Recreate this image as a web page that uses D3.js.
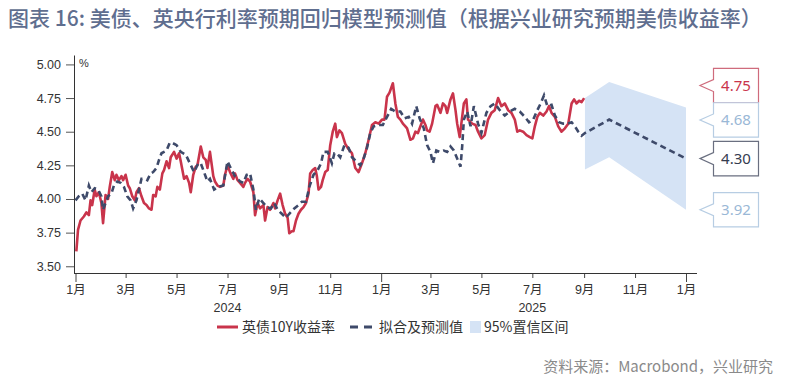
<!DOCTYPE html>
<html><head><meta charset="utf-8">
<script src="https://cdn.jsdelivr.net/npm/d3@7"></script>
<style>
body{margin:0;background:#fff;}
svg{display:block;}
</style></head>
<body><svg id="c" width="800" height="380"></svg>
<script>
// ---------------- data ----------------
const titleText = "图表 16: 美债、英央行利率预期回归模型预测值（根据兴业研究预期美债收益率）";
const sourceText = "资料来源：Macrobond，兴业研究";
const seriesNames = ["英债10Y收益率", "拟合及预测值", "95%置信区间"];
const yTicks = [3.50, 3.75, 4.00, 4.25, 4.50, 4.75, 5.00];
const yearLabels = [["2024-07-01", "2024"], ["2025-07-01", "2025"]];

// UK 10Y gilt yield (%)
const gilt10y = [
["2024-01-02",3.61],["2024-01-04",3.77],["2024-01-07",3.84],["2024-01-11",3.87],["2024-01-14",3.90],["2024-01-17",3.88],
["2024-01-19",3.99],["2024-01-21",3.955],["2024-01-24",4.07],["2024-01-26",4.02],["2024-01-29",4.05],["2024-02-01",3.97],
["2024-02-03",3.82],["2024-02-06",4.03],["2024-02-09",4.00],["2024-02-11",4.09],["2024-02-14",4.20],["2024-02-17",4.14],
["2024-02-19",4.18],["2024-02-22",4.14],["2024-02-25",4.17],["2024-02-27",4.14],["2024-03-01",4.18],["2024-03-04",4.10],
["2024-03-06",4.08],["2024-03-09",4.02],["2024-03-12",3.99],["2024-03-14",4.05],["2024-03-17",4.08],["2024-03-20",4.02],
["2024-03-23",3.97],["2024-03-26",3.955],["2024-03-29",3.93],["2024-04-01",3.92],["2024-04-03",4.03],["2024-04-06",4.02],
["2024-04-08",4.09],["2024-04-11",4.07],["2024-04-14",4.19],["2024-04-16",4.215],["2024-04-19",4.28],["2024-04-22",4.23],
["2024-04-24",4.31],["2024-04-28",4.35],["2024-05-01",4.30],["2024-05-04",4.34],["2024-05-06",4.28],["2024-05-10",4.15],
["2024-05-13",4.17],["2024-05-16",4.12],["2024-05-18",4.05],["2024-05-21",4.18],["2024-05-24",4.24],["2024-05-26",4.25],
["2024-05-30",4.39],["2024-06-02",4.31],["2024-06-05",4.29],["2024-06-07",4.23],["2024-06-10",4.35],["2024-06-14",4.17],
["2024-06-16",4.13],["2024-06-19",4.10],["2024-06-22",4.09],["2024-06-26",4.10],["2024-06-28",4.18],["2024-07-01",4.25],
["2024-07-04",4.20],["2024-07-08",4.15],["2024-07-10",4.19],["2024-07-13",4.14],["2024-07-16",4.12],["2024-07-20",4.09],
["2024-07-22",4.12],["2024-07-25",4.15],["2024-07-28",4.13],["2024-08-01",4.05],["2024-08-03",3.88],["2024-08-06",3.97],
["2024-08-09",3.93],["2024-08-13",3.955],["2024-08-15",3.84],["2024-08-18",3.94],["2024-08-21",3.92],["2024-08-25",3.97],
["2024-08-27",3.93],["2024-08-30",3.99],["2024-09-02",4.04],["2024-09-05",3.955],["2024-09-08",3.89],["2024-09-11",3.86],
["2024-09-13",3.745],["2024-09-16",3.76],["2024-09-18",3.76],["2024-09-21",3.84],["2024-09-24",3.89],["2024-09-27",3.92],
["2024-09-30",3.94],["2024-10-03",3.97],["2024-10-06",4.04],["2024-10-08",4.19],["2024-10-11",4.215],["2024-10-14",4.23],
["2024-10-16",4.17],["2024-10-18",4.07],["2024-10-21",4.09],["2024-10-23",4.14],["2024-10-26",4.20],["2024-10-29",4.215],
["2024-11-01",4.40],["2024-11-04",4.50],["2024-11-07",4.56],["2024-11-09",4.46],["2024-11-12",4.51],["2024-11-15",4.49],
["2024-11-19",4.41],["2024-11-23",4.37],["2024-11-27",4.34],["2024-12-01",4.23],["2024-12-05",4.20],["2024-12-09",4.265],
["2024-12-13",4.34],["2024-12-17",4.44],["2024-12-21",4.55],["2024-12-25",4.57],["2024-12-29",4.56],["2025-01-02",4.59],
["2025-01-05",4.59],["2025-01-08",4.76],["2025-01-11",4.79],["2025-01-15",4.86],["2025-01-18",4.71],["2025-01-21",4.61],
["2025-01-24",4.59],["2025-01-27",4.56],["2025-01-30",4.54],["2025-02-01",4.525],["2025-02-05",4.44],["2025-02-08",4.45],
["2025-02-11",4.50],["2025-02-14",4.49],["2025-02-17",4.54],["2025-02-20",4.59],["2025-02-23",4.55],["2025-02-25",4.51],
["2025-02-28",4.50],["2025-03-03",4.56],["2025-03-07",4.69],["2025-03-09",4.70],["2025-03-13",4.64],["2025-03-16",4.71],
["2025-03-19",4.69],["2025-03-21",4.64],["2025-03-25",4.74],["2025-03-28",4.785],["2025-03-31",4.66],["2025-04-02",4.56],
["2025-04-05",4.46],["2025-04-10",4.71],["2025-04-13",4.74],["2025-04-15",4.59],["2025-04-20",4.56],["2025-04-24",4.55],
["2025-04-27",4.50],["2025-05-01",4.45],["2025-05-05",4.475],["2025-05-09",4.59],["2025-05-13",4.64],["2025-05-17",4.66],
["2025-05-21",4.75],["2025-05-25",4.69],["2025-05-29",4.71],["2025-06-02",4.66],["2025-06-06",4.64],["2025-06-10",4.59],
["2025-06-13",4.50],["2025-06-16",4.51],["2025-06-20",4.50],["2025-06-24",4.475],["2025-06-28",4.46],["2025-07-01",4.45],
["2025-07-04",4.54],["2025-07-07",4.61],["2025-07-10",4.64],["2025-07-14",4.62],["2025-07-18",4.65],["2025-07-21",4.69],
["2025-07-24",4.64],["2025-07-28",4.61],["2025-08-01",4.54],["2025-08-05",4.50],["2025-08-09",4.525],["2025-08-13",4.56],
["2025-08-17",4.71],["2025-08-20",4.74],["2025-08-23",4.71],["2025-08-26",4.73],["2025-08-29",4.72],["2025-09-01",4.75]
];

// Regression fitted values (%)
const fitted = [
["2024-01-01",3.99],["2024-01-05",4.02],["2024-01-09",4.04],["2024-01-13",3.99],["2024-01-17",4.10],["2024-01-20",4.05],
["2024-01-24",4.08],["2024-01-28",4.07],["2024-02-01",4.02],["2024-02-03",3.92],["2024-02-06",3.97],["2024-02-09",4.02],
["2024-02-13",4.04],["2024-02-16",4.10],["2024-02-20",4.13],["2024-02-24",4.12],["2024-02-28",4.09],["2024-03-03",4.02],
["2024-03-07",3.99],["2024-03-10",3.93],["2024-03-14",3.99],["2024-03-17",4.07],["2024-03-20",4.15],["2024-03-24",4.15],
["2024-03-27",4.14],["2024-03-31",4.19],["2024-04-03",4.20],["2024-04-07",4.23],["2024-04-10",4.29],["2024-04-13",4.34],
["2024-04-16",4.35],["2024-04-19",4.36],["2024-04-23",4.42],["2024-04-28",4.41],["2024-05-01",4.40],["2024-05-06",4.35],
["2024-05-12",4.33],["2024-05-17",4.265],["2024-05-22",4.20],["2024-05-27",4.265],["2024-05-30",4.265],["2024-06-02",4.215],
["2024-06-07",4.13],["2024-06-10",4.15],["2024-06-15",4.07],["2024-06-20",4.09],["2024-06-26",4.10],["2024-07-01",4.28],
["2024-07-06",4.215],["2024-07-10",4.17],["2024-07-16",4.13],["2024-07-20",4.12],["2024-07-24",4.18],["2024-07-28",4.19],
["2024-08-01",4.07],["2024-08-04",3.92],["2024-08-08",4.005],["2024-08-13",3.97],["2024-08-17",3.94],["2024-08-22",3.93],
["2024-08-26",3.97],["2024-08-30",3.92],["2024-09-04",3.89],["2024-09-09",3.86],["2024-09-13",3.89],["2024-09-19",3.93],
["2024-09-24",3.955],["2024-09-28",3.98],["2024-10-03",3.98],["2024-10-07",4.09],["2024-10-12",4.18],["2024-10-17",4.215],
["2024-10-21",4.265],["2024-10-24",4.35],["2024-10-29",4.35],["2024-11-03",4.265],["2024-11-06",4.34],["2024-11-09",4.34],
["2024-11-13",4.31],["2024-11-18",4.40],["2024-11-23",4.38],["2024-11-27",4.31],["2024-12-02",4.28],["2024-12-07",4.25],
["2024-12-11",4.30],["2024-12-15",4.38],["2024-12-19",4.49],["2024-12-23",4.54],["2024-12-29",4.55],["2025-01-03",4.55],
["2025-01-08",4.61],["2025-01-13",4.67],["2025-01-18",4.65],["2025-01-24",4.65],["2025-01-29",4.60],["2025-02-03",4.61],
["2025-02-07",4.56],["2025-02-12",4.69],["2025-02-16",4.60],["2025-02-21",4.525],["2025-02-25",4.40],["2025-03-01",4.35],
["2025-03-04",4.265],["2025-03-08",4.36],["2025-03-12",4.35],["2025-03-17",4.36],["2025-03-21",4.35],["2025-03-25",4.39],
["2025-03-29",4.36],["2025-04-02",4.30],["2025-04-06",4.24],["2025-04-08",4.39],["2025-04-10",4.59],["2025-04-14",4.65],
["2025-04-18",4.54],["2025-04-22",4.69],["2025-04-27",4.56],["2025-05-01",4.49],["2025-05-07",4.64],["2025-05-12",4.69],
["2025-05-17",4.71],["2025-05-23",4.66],["2025-05-29",4.62],["2025-06-04",4.65],["2025-06-10",4.67],["2025-06-16",4.65],
["2025-06-22",4.61],["2025-06-27",4.57],["2025-07-02",4.59],["2025-07-07",4.66],["2025-07-11",4.71],["2025-07-15",4.77],
["2025-07-19",4.69],["2025-07-24",4.70],["2025-07-28",4.62],["2025-08-02",4.57],["2025-08-07",4.56],["2025-08-12",4.56],
["2025-08-17",4.57],["2025-08-21",4.54],["2025-08-25",4.50],["2025-08-29",4.47]
];

// Forecast path and 95% confidence band
const forecastDates = ["2025-09-02", "2025-10-01", "2026-01-01"];
const forecastMid   = [4.49, 4.59, 4.30];
const forecastUpper = [4.75, 4.87, 4.68];
const forecastLower = [4.22, 4.31, 3.92];

// End-value callouts
const calloutValues = [4.75, 4.68, 4.30, 3.92];
const calloutKinds  = ["yield", "band", "fit", "band"];

// ---------------- drawing ----------------
const parse = d3.timeParse("%Y-%m-%d");
const svg = d3.select("#c");
const C = {red:"#c9344b", navy:"#3e4a6a", band:"#d5e3f5", axis:"#333", text:"#333"};
const tickFont = "'Liberation Sans', 'Noto Sans CJK SC', sans-serif";
const cjk = "'Noto Sans CJK SC', 'Noto Sans', sans-serif";

const x = d3.scaleTime().domain([parse("2024-01-01"), parse("2026-01-15")]).range([75.5, 697.7]);
const y = d3.scaleLinear().domain([3.45, 5.07]).range([273, 55]);

// title
svg.append("text").attr("x", 8).attr("y", 26).text(titleText)
  .attr("font-family", cjk).attr("font-size", 21).attr("font-weight", 500).attr("fill", "#5f6e8f");

// band
const bandData = forecastDates.map((d, i) => ({d: parse(d), lo: forecastLower[i], hi: forecastUpper[i]}));
svg.append("path").datum(bandData)
  .attr("d", d3.area().x(d => x(d.d)).y0(d => y(d.lo)).y1(d => y(d.hi)))
  .attr("fill", C.band);

// axes
const yAxis = d3.axisLeft(y).tickValues(yTicks).tickFormat(d3.format(".2f")).tickSize(8).tickSizeOuter(0).tickPadding(5);
const gy = svg.append("g").attr("transform", "translate(74,0)").call(yAxis);
gy.select(".domain").attr("stroke", C.axis);
gy.selectAll(".tick line").attr("stroke", "#555");
gy.selectAll("text").attr("font-family", tickFont).attr("font-size", 12.5).attr("fill", C.text);

const xTicks = d3.timeMonth.every(2).range(parse("2024-01-01"), parse("2026-01-02"));
const xAxis = d3.axisBottom(x).tickValues(xTicks).tickFormat(d => (d.getMonth() + 1) + "月").tickSize(5).tickSizeOuter(0).tickPadding(5);
const gx = svg.append("g").attr("transform", "translate(0,273)").call(xAxis);
gx.select(".domain").remove();
gx.selectAll(".tick line").attr("stroke", "#444").attr("y2", d => d.getMonth() === 0 ? 9 : 5);
gx.selectAll("text").attr("font-family", tickFont).attr("font-size", 12.5).attr("fill", C.text).attr("dy", "0.85em");
svg.append("line").attr("x1", 74).attr("x2", 697).attr("y1", 273.5).attr("y2", 273.5).attr("stroke", C.axis);

svg.selectAll("text.year").data(yearLabels).join("text").attr("class", "year")
  .attr("x", d => x(parse(d[0]))).attr("y", 312).attr("text-anchor", "middle").text(d => d[1])
  .attr("font-family", tickFont).attr("font-size", 12.5).attr("fill", C.text);

svg.append("text").attr("x", 79).attr("y", 67).text("%").attr("font-family", tickFont).attr("font-size", 11).attr("fill", C.text);

// lines
const line = d3.line().x(d => x(d[0])).y(d => y(d[1]));
const redPts = gilt10y.map(d => [parse(d[0]), d[1]]);
const fitPts = fitted.map(d => [parse(d[0]), d[1]]).concat(forecastDates.map((d, i) => [parse(d), forecastMid[i]]));

svg.append("path").datum(redPts).attr("d", line).attr("fill", "none")
  .attr("stroke", C.red).attr("stroke-width", 2.6).attr("stroke-linejoin", "round");
svg.append("path").datum(fitPts).attr("d", line).attr("fill", "none")
  .attr("stroke", C.navy).attr("stroke-width", 2.6).attr("stroke-dasharray", "6,4");

// callouts
const styles = {
  yield: {stroke:"#cf6b7c", fill:"#c9344b"},
  band:  {stroke:"#b7cde3", fill:"#9ab8d6"},
  fit:   {stroke:"#6a6f80", fill:"#353c50"}
};
const H = 34.4;
let items = calloutValues.map((v, i) => ({v, kind: calloutKinds[i], t: y(v)})).sort((a, b) => a.t - b.t);
let clusters = items.map(it => ({items:[it], c: it.t}));
let merged = true;
while (merged) {
  merged = false;
  for (let i = 0; i < clusters.length - 1; i++) {
    const a = clusters[i], b = clusters[i + 1];
    const aBot = a.c + a.items.length * H / 2, bTop = b.c - b.items.length * H / 2;
    if (aBot > bTop) {
      const all = a.items.concat(b.items);
      clusters.splice(i, 2, {items: all, c: d3.mean(all, d => d.t)});
      merged = true; break;
    }
  }
}
clusters.forEach(cl => {
  const n = cl.items.length;
  cl.items.forEach((it, k) => { it.c = cl.c - n * H / 2 + H / 2 + k * H; });
});
const bx0 = 713.5, bx1 = 758.5, tip = 700;
const cg = svg.selectAll("g.callout").data(items).join("g").attr("class", "callout");
cg.append("path")
  .attr("d", d => {
    const t = d.c - H / 2, b = d.c + H / 2;
    return `M${bx0},${t}L${bx1},${t}L${bx1},${b}L${bx0},${b}L${bx0},${d.c + 6}L${tip},${d.c}L${bx0},${d.c - 6}Z`;
  })
  .attr("fill", "#fff").attr("stroke", d => styles[d.kind].stroke).attr("stroke-width", 1.2);
cg.append("text").attr("x", (bx0 + bx1) / 2).attr("y", d => d.c + 5.5).attr("text-anchor", "middle")
  .text(d => d3.format(".2f")(d.v)).attr("font-family", "'Noto Sans', sans-serif").attr("font-size", 15)
  .attr("fill", d => styles[d.kind].fill);

// legend
const lg = svg.append("g").attr("font-family", cjk).attr("font-size", 14).attr("fill", C.text);
lg.append("line").attr("x1", 217).attr("x2", 238).attr("y1", 327).attr("y2", 327).attr("stroke", C.red).attr("stroke-width", 3);
lg.append("text").attr("x", 242).attr("y", 332).text(seriesNames[0]);
lg.append("line").attr("x1", 350).attr("x2", 373).attr("y1", 327).attr("y2", 327).attr("stroke", C.navy).attr("stroke-width", 3).attr("stroke-dasharray", "8,6");
lg.append("text").attr("x", 379).attr("y", 332).text(seriesNames[1]);
lg.append("rect").attr("x", 470).attr("y", 321).attr("width", 11).attr("height", 12).attr("fill", C.band);
lg.append("text").attr("x", 484).attr("y", 332).text(seriesNames[2]);

// source
svg.append("text").attr("x", 773).attr("y", 372).attr("text-anchor", "end").text(sourceText)
  .attr("font-family", cjk).attr("font-size", 15).attr("fill", "#8a8a8a");
</script></body></html>
